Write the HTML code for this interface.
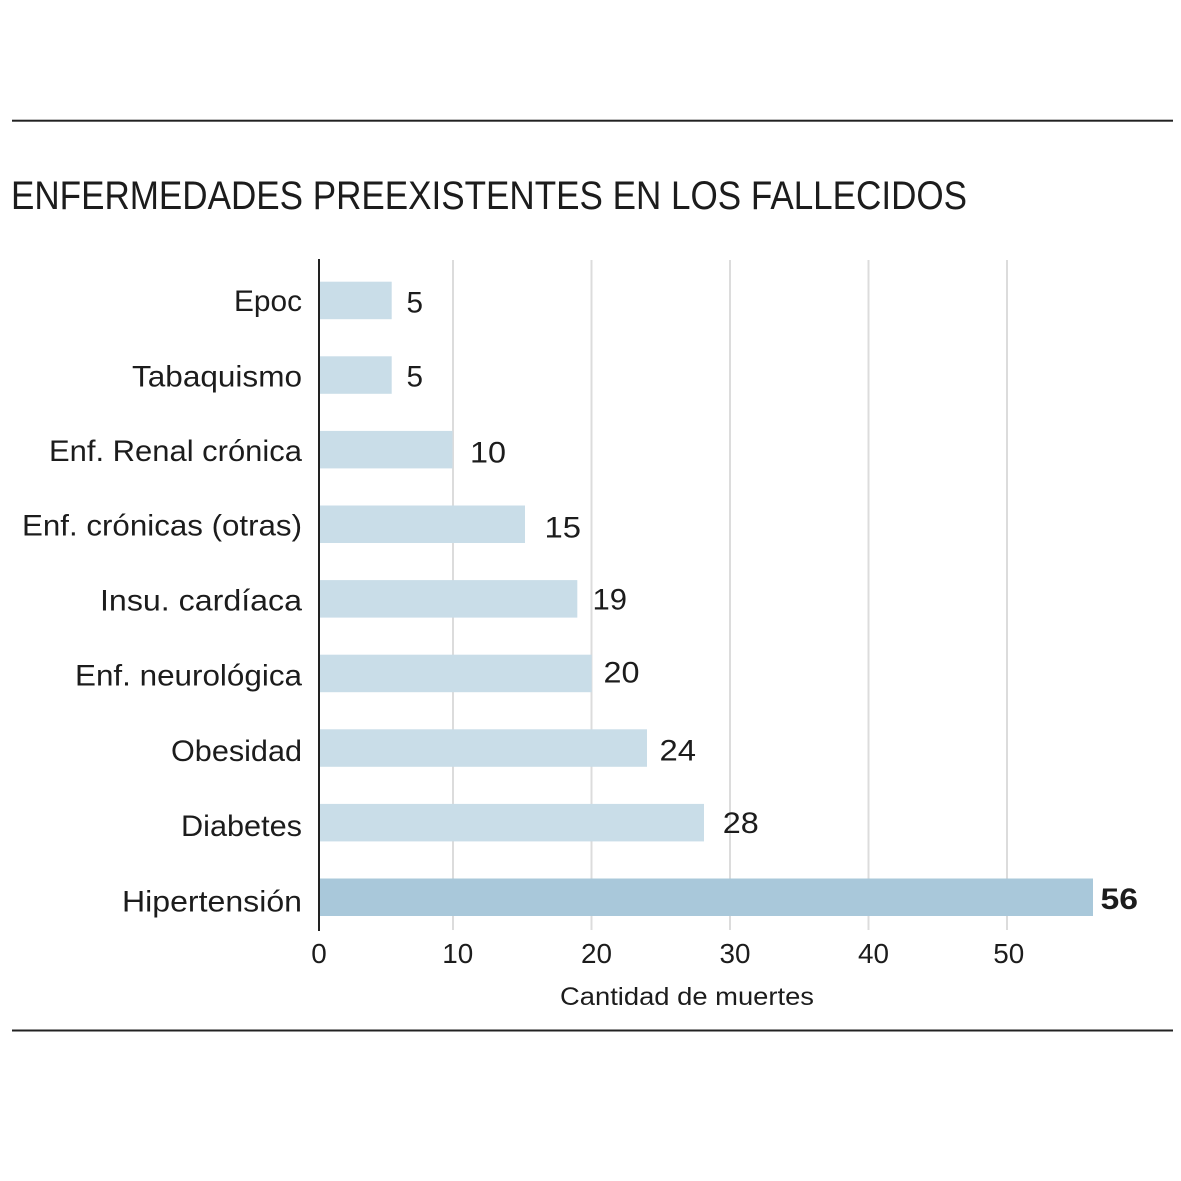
<!DOCTYPE html>
<html>
<head>
<meta charset="utf-8">
<style>
html,body{margin:0;padding:0;background:#fff;}
svg{display:block;}
text{font-family:"Liberation Sans",sans-serif;fill:#1c1c1c;}
</style>
</head>
<body>
<svg width="1181" height="1181" viewBox="0 0 1181 1181" xmlns="http://www.w3.org/2000/svg">
<rect width="1181" height="1181" fill="#fff"/>
<!-- top rule -->
<rect x="12" y="119.7" width="1161" height="2" fill="#222"/>
<!-- title -->
<text x="11" y="209" font-size="40" textLength="956" lengthAdjust="spacingAndGlyphs">ENFERMEDADES PREEXISTENTES EN LOS FALLECIDOS</text>

<!-- gridlines -->
<g fill="#dcdcdc">
<rect x="452" y="260" width="2" height="670"/>
<rect x="590.5" y="260" width="2" height="670"/>
<rect x="729" y="260" width="2" height="670"/>
<rect x="867.5" y="260" width="2" height="670"/>
<rect x="1006" y="260" width="2" height="670"/>
</g>

<!-- bars -->
<g fill="#c9dde8">
<rect x="320" y="281.7" width="71.7" height="37.5"/>
<rect x="320" y="356.3" width="71.7" height="37.5"/>
<rect x="320" y="430.9" width="132.5" height="37.5"/>
<rect x="320" y="505.5" width="205" height="37.5"/>
<rect x="320" y="580.1" width="257.3" height="37.5"/>
<rect x="320" y="654.7" width="271.7" height="37.5"/>
<rect x="320" y="729.3" width="327" height="37.5"/>
<rect x="320" y="803.9" width="384" height="37.5"/>
</g>
<rect x="320" y="878.5" width="773" height="37.5" fill="#a9c8da"/>

<!-- axis line -->
<rect x="318" y="259" width="2" height="672" fill="#222"/>

<!-- category labels -->
<g font-size="30" text-anchor="end">
<text x="302" y="311" textLength="68" lengthAdjust="spacingAndGlyphs">Epoc</text>
<text x="302" y="386.5" textLength="170" lengthAdjust="spacingAndGlyphs">Tabaquismo</text>
<text x="302" y="461" textLength="253" lengthAdjust="spacingAndGlyphs">Enf. Renal crónica</text>
<text x="302" y="535.5" textLength="280" lengthAdjust="spacingAndGlyphs">Enf. crónicas (otras)</text>
<text x="302" y="610.7" textLength="202" lengthAdjust="spacingAndGlyphs">Insu. cardíaca</text>
<text x="302" y="685.5" textLength="227" lengthAdjust="spacingAndGlyphs">Enf. neurológica</text>
<text x="302" y="761" textLength="131" lengthAdjust="spacingAndGlyphs">Obesidad</text>
<text x="302" y="836" textLength="121" lengthAdjust="spacingAndGlyphs">Diabetes</text>
<text x="302" y="911.7" textLength="180" lengthAdjust="spacingAndGlyphs">Hipertensión</text>
</g>

<!-- value labels -->
<g font-size="30">
<text x="406.5" y="312.3" textLength="16.5" lengthAdjust="spacingAndGlyphs">5</text>
<text x="406.5" y="386.7" textLength="16.5" lengthAdjust="spacingAndGlyphs">5</text>
<text x="470" y="462.7" textLength="36" lengthAdjust="spacingAndGlyphs">10</text>
<text x="544.5" y="537.3" textLength="36.5" lengthAdjust="spacingAndGlyphs">15</text>
<text x="592.5" y="609.3" textLength="34.5" lengthAdjust="spacingAndGlyphs">19</text>
<text x="603.5" y="682.7" textLength="36" lengthAdjust="spacingAndGlyphs">20</text>
<text x="659.5" y="760.7" textLength="36.5" lengthAdjust="spacingAndGlyphs">24</text>
<text x="722.8" y="833" textLength="36" lengthAdjust="spacingAndGlyphs">28</text>
<text x="1100.5" y="909" font-weight="bold" textLength="37.5" lengthAdjust="spacingAndGlyphs" fill="#111">56</text>
</g>

<!-- tick labels -->
<g font-size="28" text-anchor="middle">
<text x="319" y="963" textLength="15.5" lengthAdjust="spacingAndGlyphs">0</text>
<text x="457.8" y="963" textLength="31" lengthAdjust="spacingAndGlyphs">10</text>
<text x="596.5" y="963" textLength="31" lengthAdjust="spacingAndGlyphs">20</text>
<text x="735" y="963" textLength="31" lengthAdjust="spacingAndGlyphs">30</text>
<text x="873.5" y="963" textLength="31" lengthAdjust="spacingAndGlyphs">40</text>
<text x="1008.8" y="963" textLength="31" lengthAdjust="spacingAndGlyphs">50</text>
</g>

<!-- axis title -->
<text x="560" y="1005" font-size="25" textLength="254" lengthAdjust="spacingAndGlyphs">Cantidad de muertes</text>

<!-- bottom rule -->
<rect x="12" y="1029.5" width="1161" height="2" fill="#222"/>
</svg>
</body>
</html>
